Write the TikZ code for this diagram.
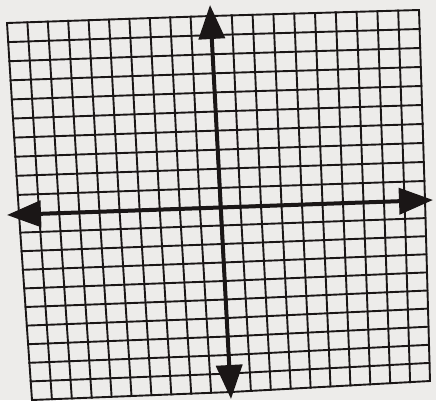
\documentclass[tikz,border=0pt]{standalone}
\usetikzlibrary{calc,arrows.meta}
\definecolor{paper}{RGB}{237,236,234}
\definecolor{ink}{RGB}{26,22,22}
\tikzset{
  gridline/.style={draw=ink, line width=1.9pt, line cap=rect},
  axisline/.style={draw=ink, line width=4pt,
    {Triangle[length=34pt,width=26pt]}-{Triangle[length=34pt,width=26pt]}},
}
\begin{document}
\begin{tikzpicture}[x=1pt,y=-1pt]
  \fill[paper] (0,0) rectangle (436,400);
  \useasboundingbox (0,0) rectangle (436,400);
  % grid corners
  \coordinate (TL) at (7,23);
  \coordinate (TM) at (211,16);
  \coordinate (TR) at (419,10);
  \coordinate (ML) at (19,214);
  \coordinate (C)  at (220,207);
  \coordinate (MR) at (425,200);
  \coordinate (BL) at (32,400);
  \coordinate (BM) at (231,392);
  \coordinate (BR) at (430,381);
  % axis ends
  \coordinate (yt) at (210,5);
  \coordinate (yb) at (231,399);
  \coordinate (xl) at (7,215);
  \coordinate (xr) at (433,200);
  % grid
  \foreach \a/\b/\d/\e in {TL/TM/ML/C, TM/TR/C/MR, ML/C/BL/BM, C/MR/BM/BR}{
    \foreach \i in {0,...,10}{
      \draw[gridline] ($(\a)!\i/10!(\b)$) -- ($(\d)!\i/10!(\e)$);
      \draw[gridline] ($(\a)!\i/10!(\d)$) -- ($(\b)!\i/10!(\e)$);
    }
  }
  % axes
  \draw[axisline] (yt) -- (yb);
  \draw[axisline] (xl) -- (xr);
\end{tikzpicture}
\end{document}
